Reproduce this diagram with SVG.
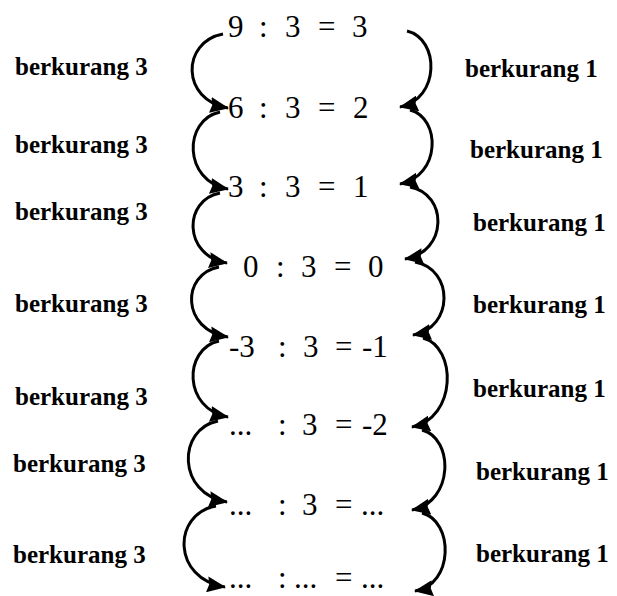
<svg xmlns="http://www.w3.org/2000/svg" width="617" height="596" viewBox="0 0 617 596">
<style>
text{font-family:'Liberation Serif','Times New Roman',Times,serif;fill:#000}
.eq{font-size:31px}
.lbl{font-size:25px;font-weight:bold}
.arc{fill:none;stroke:#000;stroke-width:3;marker-end:url(#ah)}
</style>
<defs>
<marker id="ah" markerUnits="userSpaceOnUse" markerWidth="19" markerHeight="16" refX="18" refY="8" orient="auto" viewBox="0 0 19 16">
<path d="M0,0 L19,8 L0,16 L2,8 Z" fill="#000"/>
</marker>
</defs>
<rect width="617" height="596" fill="#fff"/>
<g id="row1"><text class="eq" y="37"><tspan x="228">9</tspan><tspan x="259">:</tspan><tspan x="285">3</tspan><tspan x="318">=</tspan><tspan x="352">3</tspan></text></g>
<g id="row2"><text class="eq" y="118"><tspan x="228">6</tspan><tspan x="259">:</tspan><tspan x="285">3</tspan><tspan x="318">=</tspan><tspan x="353">2</tspan></text></g>
<g id="row3"><text class="eq" y="197"><tspan x="228">3</tspan><tspan x="259">:</tspan><tspan x="285">3</tspan><tspan x="318">=</tspan><tspan x="353">1</tspan></text></g>
<g id="row4"><text class="eq" y="277"><tspan x="243">0</tspan><tspan x="276">:</tspan><tspan x="301">3</tspan><tspan x="334">=</tspan><tspan x="368">0</tspan></text></g>
<g id="row5"><text class="eq" y="357"><tspan x="229">-3</tspan><tspan x="278">:</tspan><tspan x="303">3</tspan><tspan x="335">=</tspan><tspan x="362">-1</tspan></text></g>
<g id="row6"><text class="eq" y="435"><tspan x="229">...</tspan><tspan x="278">:</tspan><tspan x="302">3</tspan><tspan x="335">=</tspan><tspan x="362">-2</tspan></text></g>
<g id="row7"><text class="eq" y="515"><tspan x="229">...</tspan><tspan x="278">:</tspan><tspan x="302">3</tspan><tspan x="335">=</tspan><tspan x="361">...</tspan></text></g>
<g id="row8"><text class="eq" y="588"><tspan x="229">...</tspan><tspan x="278">:</tspan><tspan x="294">...</tspan><tspan x="335">=</tspan><tspan x="361">...</tspan></text></g>
<g id="labels-left">
<text class="lbl" x="15" y="75">berkurang 3</text>
<text class="lbl" x="15" y="153">berkurang 3</text>
<text class="lbl" x="15" y="220">berkurang 3</text>
<text class="lbl" x="15" y="312">berkurang 3</text>
<text class="lbl" x="15" y="405">berkurang 3</text>
<text class="lbl" x="13" y="472">berkurang 3</text>
<text class="lbl" x="13" y="563">berkurang 3</text>
</g>
<g id="labels-right">
<text class="lbl" x="465" y="77">berkurang 1</text>
<text class="lbl" x="470" y="158">berkurang 1</text>
<text class="lbl" x="473" y="231">berkurang 1</text>
<text class="lbl" x="473" y="313">berkurang 1</text>
<text class="lbl" x="473" y="397">berkurang 1</text>
<text class="lbl" x="476" y="480">berkurang 1</text>
<text class="lbl" x="476" y="562">berkurang 1</text>
</g>
<g id="connectors">
<path class="arc" d="M223,34 C181,42 181,100 228,108"/>
<path class="arc" d="M220,112 C183,120 183,181 228,189"/>
<path class="arc" d="M220,193 C183,200 183,256 227,263"/>
<path class="arc" d="M219,267 C181,274 181,330 228,337"/>
<path class="arc" d="M219,341 C183,349 183,409 228,417"/>
<path class="arc" d="M218,421 C177,429 177,494 227,502"/>
<path class="arc" d="M216,506 C172,514 172,579 225,587"/>
<path class="arc" d="M407,31 C440,39 440,99 400,107"/>
<path class="arc" d="M410,110 C441,118 441,176 400,184"/>
<path class="arc" d="M410,187 C448,194 448,252 405,259"/>
<path class="arc" d="M415,262 C454,269 454,328 413,335"/>
<path class="arc" d="M423,338 C457,347 457,418 412,427"/>
<path class="arc" d="M422,430 C454,438 454,502 412,510"/>
<path class="arc" d="M422,513 C454,521 454,585 415,591"/>
</g>
</svg>
